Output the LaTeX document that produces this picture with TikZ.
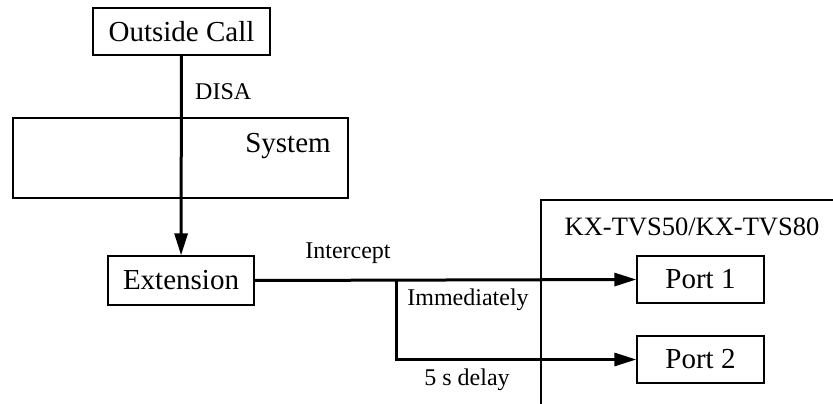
\documentclass[tikz,border=0pt]{standalone}
\usepackage{fontspec}
\setmainfont{Liberation Serif}
\usepackage{tikz}
\usetikzlibrary{arrows.meta, positioning}

\tikzset{
  box/.style={draw, line width=1.3pt, inner sep=0pt, font=\fontsize{29}{33}\selectfont},
  flow/.style={line width=3pt, -{Triangle[length=22pt, width=13pt]}},
  tag/.style={font=\fontsize{24}{28}\selectfont, inner sep=0pt}
}

\begin{document}
\begin{tikzpicture}[x=1pt, y=-1pt]
  \useasboundingbox (0,0) rectangle (833,404);

  % system block
  \draw[line width=1.3pt] (13,118) rectangle (348,198);
  \node[box, draw=none] (system) at (288,146) {System};

  % voice processing unit (open frame)
  \draw[line width=1.3pt] (541,404) -- (541,200) -- (833,200);
  \node[font=\fontsize{26.5}{30}\selectfont, inner sep=0pt] (unit) at (692,227) {KX-TVS50/KX-TVS80};

  % nodes
  \node[box, minimum width=177pt, minimum height=47pt] (call) at (181.5,31.5) {Outside Call};
  \node[box, minimum width=146pt, minimum height=49pt] (ext) at (181,280.5) {Extension};
  \node[box, minimum width=127pt, minimum height=47pt] (port1) at (700.5,279.5) {Port 1};
  \node[box, minimum width=127pt, minimum height=47pt] (port2) at (700.5,359.5) {Port 2};

  % connectors
  \coordinate (split) at (396,280);
  \draw[flow] (call) -- (ext);
  \draw[flow] (ext.east) -- (port1.west);
  \draw[flow] (split) |- (port2.west);

  % labels
  \node[tag, anchor=west] (disa) at (195,92) {DISA};
  \node[tag] (icpt) at (348,253) {Intercept};
  \node[tag] (now) at (468,300) {Immediately};
  \node[tag] (later) at (467,380) {5 s delay};
\end{tikzpicture}
\end{document}
